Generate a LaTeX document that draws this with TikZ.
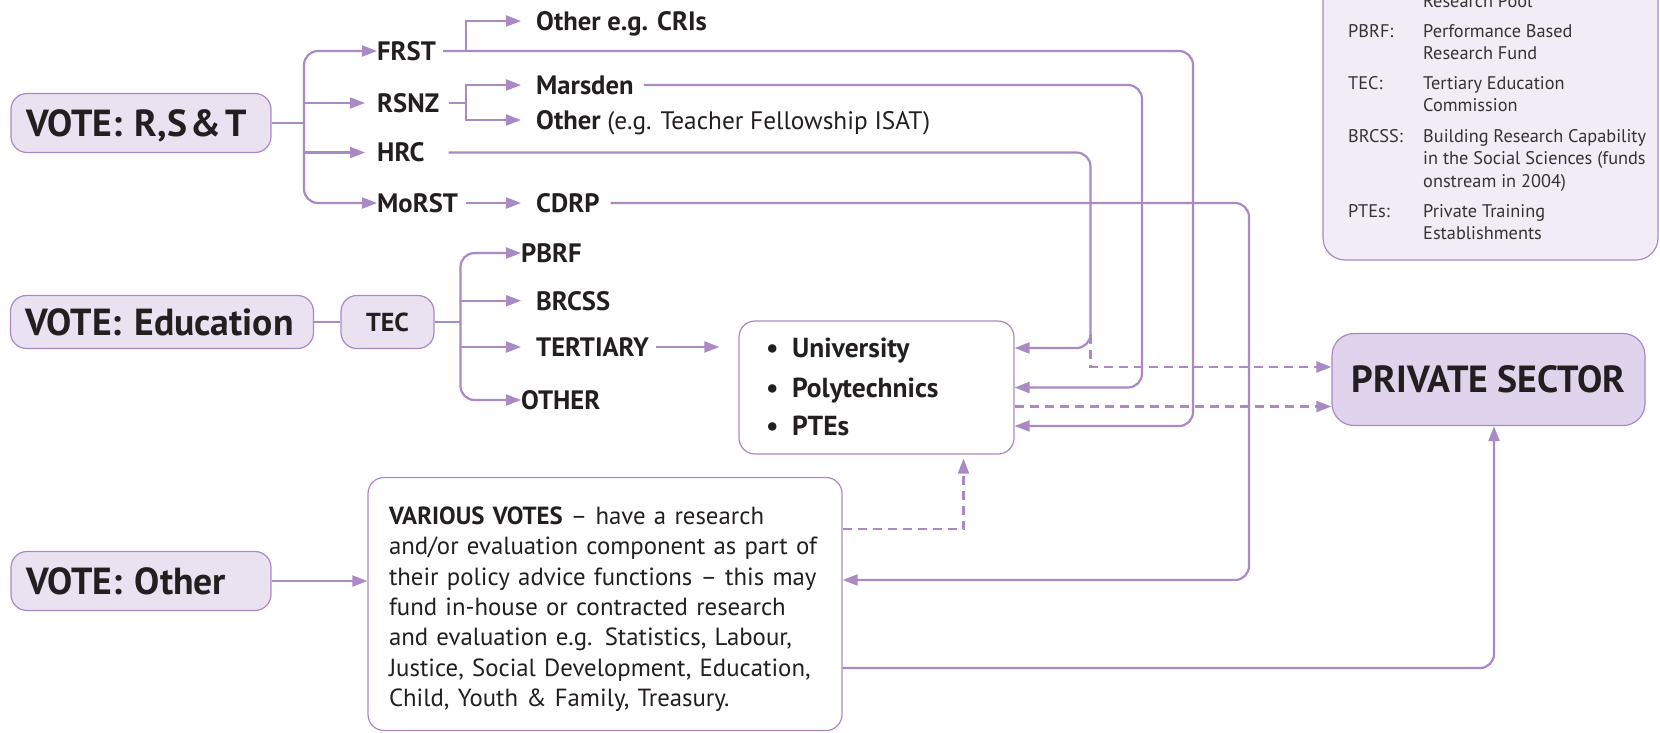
\documentclass[tikz,border=0pt]{standalone}
\usepackage{fontspec}
\setmainfont{PT Sans}
\usetikzlibrary{arrows.meta,calc}
\definecolor{pline}{HTML}{A98AC5}
\definecolor{pfill}{HTML}{EAE2F1}
\definecolor{pfill2}{HTML}{DFD4EB}
\definecolor{lfill}{HTML}{F1EDF6}
\definecolor{ink}{HTML}{231F20}
\definecolor{lgink}{HTML}{333333}
\begin{document}
\begin{tikzpicture}[x=1pt,y=-1pt,
  conn/.style={draw=pline, line width=2.2pt},
  arr/.style={conn, -{Triangle[length=15pt,width=11pt]}},
  darr/.style={arr, dash pattern=on 9pt off 6pt},
  rc/.style={rounded corners=14pt},
  votebox/.style={draw=pline, fill=pfill, line width=1.2pt, rounded corners=16pt,
    font=\fontsize{37.7}{44}\selectfont\bfseries, text=ink, align=left,
    inner xsep=15pt, inner ysep=0pt, text height=26.4pt, text depth=0pt, minimum height=59pt},
  smallbox/.style={draw=pline, fill=pfill, line width=1.2pt, rounded corners=16pt,
    font=\fontsize{26}{30}\selectfont\bfseries, text=ink, inner sep=0pt,
    text height=18.2pt, text depth=0pt, minimum width=93pt, minimum height=53pt},
  whitebox/.style={draw=pline, fill=white, line width=1.2pt, rounded corners=16pt},
  privbox/.style={draw=pline, fill=pfill2, line width=1.2pt, rounded corners=22pt,
    font=\fontsize{37.8}{44}\selectfont\bfseries, text=ink, inner sep=0pt,
    text height=26.5pt, text depth=0pt, minimum width=313pt, minimum height=92pt},
  lab/.style={font=\fontsize{26.6}{30}\selectfont\bfseries, text=ink, inner sep=0pt,
    anchor=west, text height=18.6pt, text depth=0pt},
  item/.style={font=\fontsize{27.5}{30}\selectfont\bfseries, text=ink, inner sep=0pt,
    anchor=west, text height=19.2pt, text depth=0pt},
  legt/.style={font=\fontsize{18.3}{22.5}\selectfont, text=lgink, inner sep=0pt, anchor=base west},
]
\useasboundingbox (0,0) rectangle (1660,732);
\clip (0,0) rectangle (1660,732);

% legend
\node[draw=pline, fill=lfill, line width=1.2pt, rounded corners=22pt,
      minimum width=335pt, minimum height=300pt, inner sep=0pt] (legend) at (1490.5,110) {};
\node[legt] (lg0)  at (1423,7.5)   {Research Pool};
\node[legt] (lg1)  at (1348,37)    {PBRF:};
\node[legt] (lg1a) at (1423,37)    {Performance Based};
\node[legt] (lg1b) at (1423,59.5)  {Research Fund};
\node[legt] (lg2)  at (1348,89)    {TEC:};
\node[legt] (lg2a) at (1423,89)    {Tertiary Education};
\node[legt] (lg2b) at (1423,111.5) {Commission};
\node[legt] (lg3)  at (1348,142)   {BRCSS:};
\node[legt] (lg3a) at (1423,142)   {Building Research Capability};
\node[legt] (lg3b) at (1423,164.5) {in the Social Sciences (funds};
\node[legt] (lg3c) at (1423,187)   {onstream in 2004)};
\node[legt] (lg4)  at (1348,217)   {PTEs:};
\node[legt] (lg4a) at (1423,217)   {Private Training};
\node[legt] (lg4b) at (1423,239.5) {Establishments};

% vote boxes
\node[votebox, text width=230pt] (vrst) at (141,123) {VOTE: R,S\hspace{0.1em}\&\hspace{0.1em}T};
\node[votebox, text width=273pt, minimum height=53pt] (vedu) at (162,322) {VOTE: Education};
\node[votebox, text width=230pt] (voth) at (141,581) {VOTE: Other};
\node[smallbox] (tec) at (387.5,322) {TEC};

% labels
\node[lab] (frst)    at (377,51)    {FRST};
\node[lab] (rsnz)    at (377,103)   {RSNZ};
\node[lab] (hrc)     at (377,152.5) {HRC};
\node[lab] (morst)   at (377,203)   {MoRST};
\node[lab] (cris)    at (536,21)    {Other e.g. CRIs};
\node[lab] (marsden) at (536,85)    {Marsden};
\node[lab] (othrs)   at (536,120)   {Other {\fontsize{25.3}{30}\selectfont\mdseries(e.g. Teacher Fellowship ISAT)}};
\node[lab] (cdrp)    at (536,203)   {CDRP};
\node[lab] (pbrf)    at (521,253)   {PBRF};
\node[lab] (brcss)   at (536,300.7) {BRCSS};
\node[lab] (tert)    at (536,347)   {TERTIARY};
\node[lab] (othedu)  at (521,400)   {OTHER};

% institution box
\node[whitebox, minimum width=275pt, minimum height=133pt, inner sep=0pt] (uni) at (876.5,387.5) {};
\node[item] (univ) at (766,348)   {\makebox[26pt][l]{\textbullet}University};
\node[item] (poly) at (766,387.5) {\makebox[26pt][l]{\textbullet}Polytechnics};
\node[item] (ptes) at (766,426)   {\makebox[26pt][l]{\textbullet}PTEs};

\node[privbox] (priv) at (1488.5,379.5) {PRIVATE SECTOR};

\node[whitebox, text width=432pt, inner xsep=21pt, inner ysep=0pt, minimum height=253pt,
      align=left, font=\fontsize{24.8}{30.4}\selectfont, text=ink] (various) at (605,604)
 {\rule{0pt}{28pt}\textbf{VARIOUS VOTES} -- have a research\\
  and/or evaluation component as part of\\
  their policy advice functions -- this may\\
  fund in-house or contracted research\\
  and evaluation e.g. Statistics, Labour,\\
  Justice, Social Development, Education,\\
  Child, Youth \& Family, Treasury.};

% connectors R,S&T
\coordinate (t1) at (304,123);
\draw[conn] (vrst.east) -- (t1);
\draw[arr, rc] (t1) |- (frst.west);
\draw[arr, rc] (t1) |- (morst.west);
\draw[arr] (t1 |- rsnz.west) -- ([xshift=-12pt]rsnz.west);
\draw[arr] (t1 |- hrc.west) -- ([xshift=-12pt]hrc.west);

\coordinate (b1) at (466,51);
\draw[arr] (b1) |- ([xshift=-15pt]cris.west);
\draw[arr, rc] ([xshift=7pt]frst.east) -| (1193,250) |- (uni.east |- ptes.west);

\coordinate (b2) at (466,103);
\draw[conn] ([xshift=10pt]rsnz.east) -- (b2);
\draw[arr] (b2) |- ([xshift=-15pt]marsden.west);
\draw[arr] (b2) |- ([xshift=-15pt]othrs.west);
\draw[arr, rc] ([xshift=10pt]marsden.east) -| (1142,250) |- (uni.east |- poly.west);
\draw[arr, rc] ([xshift=24pt]hrc.east) -| (1090.5,250) |- (uni.east |- univ.west);
\draw[arr] ([xshift=8pt]morst.east) -- ([xshift=-15pt]cdrp.west);
\draw[arr, rc] ([xshift=11pt]cdrp.east) -| (1249,400) |- ($(various.east)+(0,-24)$);

% connectors Education
\draw[conn] (vedu.east) -- (tec.west);
\coordinate (t2) at (460.5,322);
\draw[conn] (tec.east) -- (t2);
\draw[arr, rc] (t2) |- (pbrf.west);
\draw[arr, rc] (t2) |- (othedu.west);
\draw[arr] (t2 |- brcss.west) -- ([xshift=-15pt]brcss.west);
\draw[arr] (t2 |- tert.west) -- ([xshift=-15pt]tert.west);
\draw[arr] ([xshift=7pt]tert.east) -- ($(uni.west |- tert.west)+(-19,0)$);

% dashed and other
\coordinate (hd) at (1090.5,335);
\draw[darr] (hd) |- ($(priv.west)+(0,-12.5)$);
\draw[darr] ($(uni.east)+(0,19)$) -- ($(priv.west)+(0,27)$);
\draw[darr] ($(various.east)+(0,-75)$) -| ($(uni.south)+(87,4)$);
\draw[arr] (voth.east) -- (voth.east -| various.west);
\draw[arr, rc] ($(various.east)+(0,64)$) -| ($(priv.south)+(5.5,0)$);
\end{tikzpicture}
\end{document}
